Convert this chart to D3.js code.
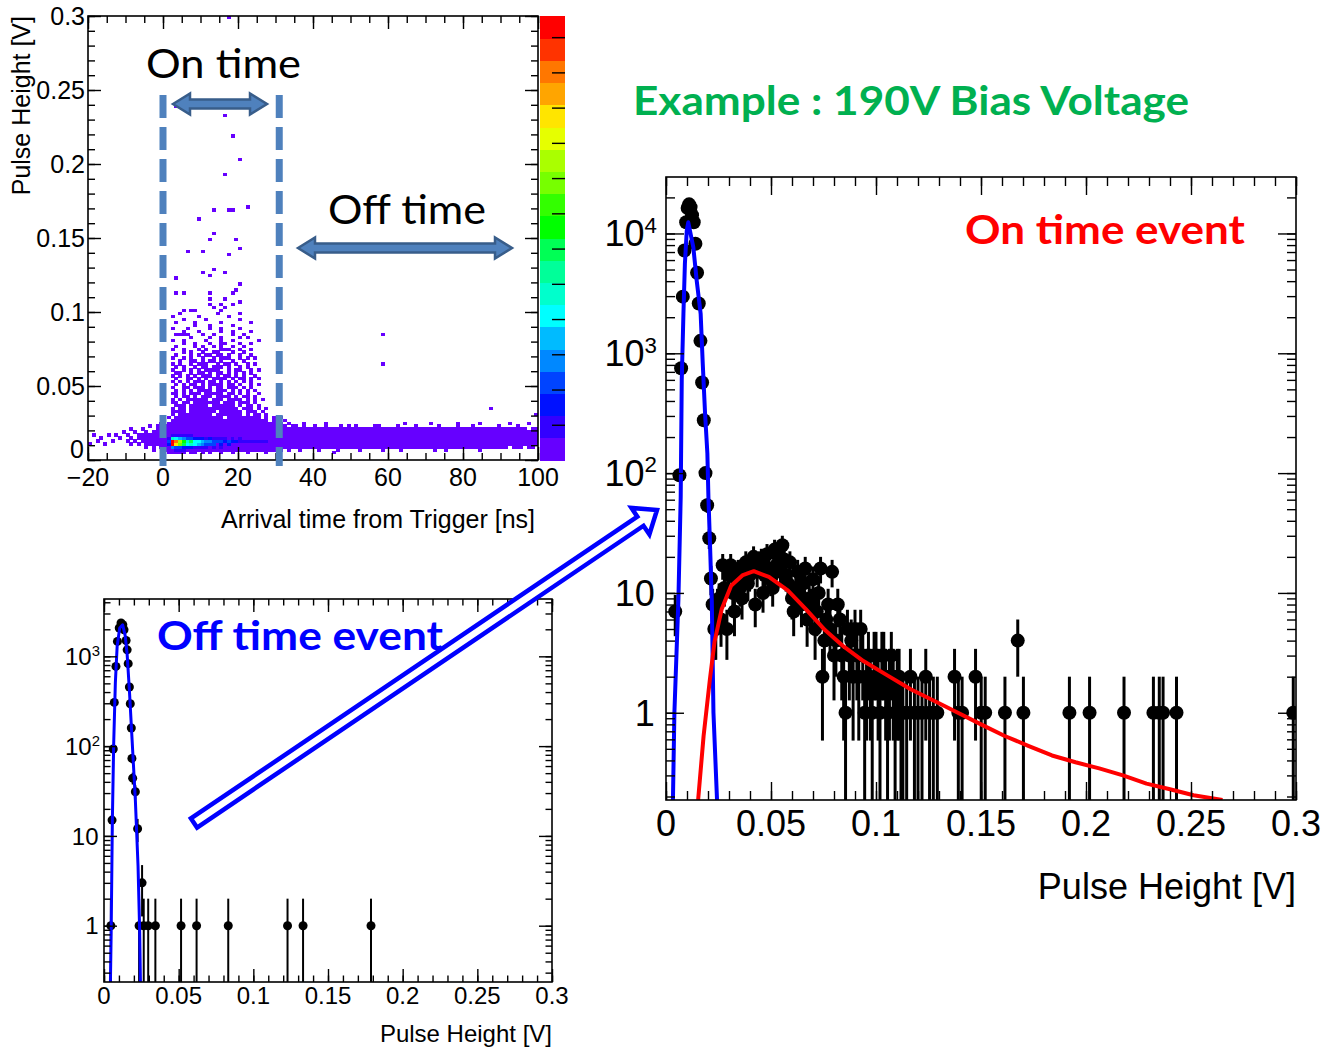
<!DOCTYPE html>
<html>
<head>
<meta charset="utf-8">
<script src="https://cdn.jsdelivr.net/npm/d3@7"></script>
<style>
body { margin: 0; background: #fff; }
svg text { font-family: "Liberation Sans", Arial, sans-serif; }
.ppt { font-family: Lato, "Open Sans", sans-serif; }
</style>
</head>
<body>
<div id="chart"></div>
<script>
////////////////////////////////////////////////////////////
//////////////////////// Data //////////////////////////////
////////////////////////////////////////////////////////////

// 2D histogram: arrival time (1 ns bins, -20..100) vs pulse height (0.002 V bins, 0..0.3)
var histXDomain = [-20, 100];
var histYDomain = [0, 0.3];
var yBin = 0.002;
var zMax = 126;
var zTickValues = [10, 20, 30, 40, 50, 60, 70, 80, 90, 100, 110, 120];
var zPalette = ["#6600ff", "#3300ff", "#0011ff", "#0044ff", "#0088ff", "#00bbff", "#00ffff",
                "#00ffcc", "#00ff99", "#00ff55", "#00ff00", "#33ff00", "#77ff00", "#aaff00",
                "#e6ff00", "#ffe500", "#ffa500", "#ff7700", "#ff3300", "#ff0000"];

// dense band, lowest / highest filled row per 1 ns column (column = ns + 20)
var bandLo = [
  1,1,1,1,1,1,1,1,1,1, 1,1,1,1, 6,5,5,4,5,4,
  3,2,2,2,2,2,3,2,2,3, 2,3,2,3,3,2,3,3,2,3, 3,3,2,3,3,3,3,2,3,3,
  3,3,4,3,4,4,3,4,4,4, 4,3,4,4,4,4,3,4,4,4, 4,4,3,4,4,4,4,4,3,4,
  4,4,4,3,4,4,4,4,4,4, 4,4,3,4,4,4,4,4,4,4, 4,4,4,4,3,4,4,4,4,4, 4,4,5,4,4,4,5,4,4,5];
var bandHi = [
  0,0,0,0,0,0,0,0,0,0, 0,0,0,0, 8,9,8,9,10,10,
  11,11,12,11,11,12,11,11,12,11, 11,12,11,11,11,12,11,11,11,12, 11,11,11,12,11,11,11,11,12,11,
  11,12,11,10,11,11,10,11,10,10, 11,10,10,11,10,10,10,11,10,10, 10,11,10,10,10,10,11,10,10,10,
  10,10,11,10,10,10,10,11,10,10, 10,10,10,11,10,10,10,10,11,10, 10,10,11,10,10,10,10,10,10,11, 10,10,10,10,11,10,10,9,10,10];

// sparse cells before the trigger [ns, row]
var leftCells = [[-20,5],[-19,8],[-18,6],[-17,7],[-16,5],[-15,8],[-14,6],[-13,8],[-12,7],[-11,9],
                 [-10,6],[-10,8],[-9,7],[-9,5],[-8,6],[-8,9],[-7,5],[-7,7],[-7,8],[-6,10],
                 [-5,4],[-4,11],[-3,3],[-2,11]];

// on-time scatter, one string per row from row 49 (0.098 V) down to row 12 (0.024 V), column = ns
var onTimeTopRow = 49;
var onTimeRows = [
  "....#.........#.....#.........",
  "..#......#.......#............",
  ".....#.....#........#.........",
  "...#....#......#.......#......",
  "........#...#.....#...........",
  "..#...#.....#..#....#.........",
  ".....#...#.....#..#....#......",
  "...####...#..#....#..#........",
  ".......#....#..#....#.#.......",
  "..#..#.....#...#..#......#....",
  ".....#..#...#..##...#..#......",
  "...#....#.#..#.#..#..#........",
  "..#..#...#.#...###..#..#......",
  ".....#.#..#..##...#..#........",
  "...#...#.#.##.##.#..#..#......",
  "..#..#.#..#..#.###..#.#.#.....",
  "....#..##.#.##.#..#..#........",
  "..#.#..#.###..#.##.#..#.#.....",
  "...#.#..#.##.###.#..#.#.......",
  "..#..#.#.#.####..#.##..#.#....",
  "...##..#.##.#.##.#.#.#.#......",
  "..#.#.#.#.###.#.##.#.#..#.....",
  "...#..##.#.#.####.#.##.#.#....",
  "..#.#.#.###.##.#.#.#.#.#......",
  "...#.#.##.#.####.##.#..#.#....",
  "..#..##.###.#.##.###.#.#......",
  "...#.#.#.####.###.#.#.#.#.....",
  "..##.#.###.#####.##.#.#..#....",
  "...#.##.#.###.####.#.##.#.....",
  "..#.#.######.###.####.#.#.#...",
  "..##.##.#######.###.###.#.....",
  "...###.#####.######.#.##.#....",
  "..#.##.#############.###.#.#..",
  "..####.#######.######.###.#...",
  "..#.#########.#######.#.##.#..",
  ".#.#############.#########.#.#",
  "..##########################.#",
  ".#############################"];

// isolated entries [ns, V]
var sparseCells = [[17,0.299],[3,0.238],[16,0.232],[18,0.219],[20,0.203],[16,0.193],[13,0.169],[17,0.169],
  [18,0.169],[22,0.171],[9,0.162],[13,0.152],[12,0.148],[19,0.148],[20,0.1435],[6,0.1416],[10,0.1407],
  [17,0.138],[13,0.1295],[10,0.126],[12,0.1244],[16,0.127],[3,0.123],[20,0.118],[19,0.115],[3,0.112],
  [5,0.112],[12,0.113],[18,0.113],[12,0.108],[16,0.108],[12,0.105],[15,0.104],[18,0.105],[20,0.106],
  [5,0.101],[8,0.101],[13,0.102],[16,0.102],[7,0.1],[15,0.1],
  [58,0.085],[58,0.064],[87,0.0357],[99,0.030],[33,0.0247],[37,0.0242],[43,0.0252],[49,0.0236],
  [57,0.0238],[64,0.025],[71,0.0245],[78,0.0242],[84,0.0246],[92,0.0242],[97,0.0244],[31,0.029],
  [32,0.027],[45,0.005],[75,0.007],[-1,0.025],[-4,0.022],[-9,0.021]];

// coloured core [ns, row, entries]
var coreCells = [
  [1,6,22],[1,5,18],[1,7,10],
  [2,6,126],[2,5,126],[3,6,112],[3,5,100],[4,6,88],[4,5,76],[5,6,66],[5,5,60],[6,6,50],[6,5,44],
  [7,6,58],[7,5,48],[8,6,44],[8,5,40],[9,6,38],[9,5,33],[10,6,32],[10,5,28],[11,6,28],[11,5,25],
  [12,6,27],[12,5,22],[13,6,24],[13,5,20],[14,6,22],[15,6,20],[15,5,18],[16,6,18],[17,6,20],[17,5,14],
  [18,6,15],[19,6,14],[20,6,12],[21,6,10],[22,6,12],[23,6,9],[24,6,10],[25,6,8],[26,6,9],[27,6,7],
  [2,7,45],[3,7,38],[4,7,32],[5,7,26],[6,7,22],[7,7,22],[8,7,18],[9,7,16],[10,7,14],[11,7,12],
  [12,7,13],[13,7,10],[14,7,9],[15,7,10],[16,7,8],[18,7,8],[20,7,7],
  [2,4,30],[3,4,25],[4,4,20],[5,4,18],[6,4,15],[7,4,16],[8,4,12],[9,4,10],[10,4,9],[11,4,8],
  [13,4,7],[15,4,7],[2,8,12],[3,8,10],[4,8,9],[5,8,8],[6,8,8],[7,8,7],[3,3,9],[4,3,8],[5,3,7]];

// on-time pulse height spectrum: bin centre [V] and entries
var onX = [0.0044,0.0064,0.0072,0.0080,0.0088,0.0096,0.0103,0.0110,0.0117,0.0124,0.0132,0.0140,0.0148,
  0.0156,0.0164,0.0172,0.0180,0.0188,0.0196,0.0206,0.0214,0.0222,0.0230,
  0.0237,0.0245,0.0253,0.0262,0.0270,0.0278,0.0290,0.0300,0.0308,0.0318,0.0326,0.0335,0.0344,0.0352,
  0.0362,0.0370,0.0380,0.0390,0.0398,0.0408,0.0417,0.0425,0.0434,0.0445,0.0454,0.0462,0.0471,0.0481,
  0.0490,0.0499,0.0508,0.0517,0.0526,0.0535,0.0545,0.0554,0.0563,0.0572,0.0581,0.0590,0.0600,0.0608,
  0.0618,0.0627,0.0636,0.0645,0.0654,0.0663,0.0672,0.0682,0.0691,0.0700,0.0710,0.0718,0.0727,0.0736,
  0.0745,0.0754,0.0763,0.0772,0.0781,0.0791,0.0800,0.0809,0.0818,0.0828,0.0837,0.0846,0.0855,0.0864,
  0.0873,0.0882,0.0891,0.0900,0.0909,0.0918,0.0927,0.0937,0.0946,0.0955,0.0964,0.0973,0.0982,0.0991,
  0.1000,0.1010,0.1019,0.1028,0.1037,0.1046,0.1055,0.1064,0.1073,0.1082,0.1091,0.1101,0.1110,0.1119,
  0.1128,0.1146,0.1164,0.1183,0.1200,0.1219,0.1237,0.1255,0.1273,0.1292,0.1374,0.1392,0.1410,0.1474,
  0.1501,0.1520,0.1614,0.1675,0.1702,0.1921,0.2017,0.2181,0.2321,0.2349,0.2367,0.2431,0.2987];
var onN = [7,96,750,2970,7200,12400,16300,17500,16600,14200,12400,8200,4700,
  2600,1270,570,276,100,54,28.6,13.2,8,5,
  5,8,9,6,17,11,5,14,17,10,7,13,15,11,
  9,16,18,12,14,16,20,8,15,18,19,10,14,21,
  16,13,11,23,17,20,15,25,19,14,12,18,9,7,
  11,15,10,8,12,16,6,9,8,13,5,7,10,16,
  2,4,6,8,5,15,3,4,8,6,3,2,1,5,
  3,4,2,5,3,2,5,3,1,2,3,2,1,3,
  3,2,1,3,3,2,1,2,3,2,1,2,2,1,
  1,1,2,1,1,1,2,1,1,1,2,1,1,2,
  1,1,1,4,1,1,1,1,1,1,1,1,1];
// fitted curves [V, value]
var onFitBlue = [[0.0033,0.187],[0.0040,1],[0.0059,8.7],[0.0070,63],[0.0075,600],[0.0083,2140],[0.0090,5600],
  [0.0099,10600],[0.0106,12400],[0.0130,7700],[0.0146,4070],[0.0165,2140],[0.0175,820],[0.0186,316],
  [0.0197,146],[0.0202,63],[0.0210,24],[0.0218,8.7],[0.0226,1],[0.0243,0.187]];
var onFitRed = [[0.0153,0.187],[0.0179,0.64],[0.0209,1.9],[0.0231,3.9],[0.0265,7.3],[0.0310,11.5],[0.0366,14.1],
  [0.0418,15.2],[0.0490,13.6],[0.0580,10.5],[0.0667,7.3],[0.0757,4.9],[0.0847,3.56],[0.0940,2.7],
  [0.1052,2.06],[0.1165,1.57],[0.1300,1.2],[0.1390,1.0],[0.1500,0.8],[0.1613,0.64],[0.1725,0.53],
  [0.1838,0.44],[0.1950,0.386],[0.2063,0.343],[0.2176,0.30],[0.2288,0.256],[0.2400,0.23],[0.2512,0.205],
  [0.2650,0.187]];

// off-time pulse height spectrum
var offX = [0.0046,0.0054,0.0062,0.0069,0.0080,0.0090,0.0102,0.0114,0.0126,0.0134,0.0148,0.0155,0.0162,
  0.0170,0.0176,0.0183,0.0187,0.0192,0.0210,0.0225,0.0235,0.0255,0.0266,0.0296,0.0344,0.0516,0.0620,
  0.0832,0.1229,0.1333,0.1788];
var offN = [1,15,93,307,772,1466,2065,2350,2250,1978,1500,1180,828,
  455,296,159,73,44,31,12,1,3,1,1,1,1,1,
  1,1,1,1];
var offFitBlue = [[0.0043,0.236],[0.0048,0.84],[0.0056,15],[0.0065,108],[0.0076,506],[0.0088,1290],[0.0105,2070],
  [0.0125,2240],[0.0142,1700],[0.0155,1050],[0.0170,420],[0.0188,118],[0.0210,25],[0.0228,4.6],
  [0.0239,0.84],[0.0244,0.236]];

// tick labels
var timeTicks = [-20, 0, 20, 40, 60, 80, 100];
var heightTicks = [0, 0.05, 0.1, 0.15, 0.2, 0.25, 0.3];
var onDecades = [1, 10, 100, 1000, 10000];
var offDecades = [1, 10, 100, 1000];

////////////////////////////////////////////////////////////
//////////////////////// Set-Up ////////////////////////////
////////////////////////////////////////////////////////////
var width = 1324, height = 1050;
var svg = d3.select("#chart").append("svg")
  .attr("width", width).attr("height", height).style("display", "block");
svg.append("rect").attr("width", width).attr("height", height).attr("fill", "#fff");

function fmt(v) { return v < 0 ? "\u2212" + Math.abs(v) : String(+v.toFixed(2)); }

// one set of inward ticks on one side
function tickSet(g, axisFn, scale, vals, len, tr) {
  var a = g.append("g").attr("transform", tr)
    .call(axisFn(scale).tickValues(vals).tickSize(-len).tickFormat(""));
  a.select(".domain").remove();
  a.selectAll(".tick line").attr("stroke", "#000").attr("stroke-width", 1.4);
}

// ROOT style frame: ticks on all four sides
function frame(g, x, y, xMaj, xMin, yMaj, yMin, tMaj, tMin) {
  var X0 = x.range()[0], X1 = x.range()[1], Yb = y.range()[0], Yt = y.range()[1];
  tickSet(g, d3.axisBottom, x, xMin, tMin, "translate(0," + Yb + ")");
  tickSet(g, d3.axisBottom, x, xMaj, tMaj, "translate(0," + Yb + ")");
  tickSet(g, d3.axisTop, x, xMin, tMin, "translate(0," + Yt + ")");
  tickSet(g, d3.axisTop, x, xMaj, tMaj, "translate(0," + Yt + ")");
  tickSet(g, d3.axisLeft, y, yMin, tMin, "translate(" + X0 + ",0)");
  tickSet(g, d3.axisLeft, y, yMaj, tMaj, "translate(" + X0 + ",0)");
  tickSet(g, d3.axisRight, y, yMin, tMin, "translate(" + X1 + ",0)");
  tickSet(g, d3.axisRight, y, yMaj, tMaj, "translate(" + X1 + ",0)");
  g.append("rect").attr("x", X0).attr("y", Yt).attr("width", X1 - X0).attr("height", Yb - Yt)
    .attr("fill", "none").attr("stroke", "#000").attr("stroke-width", 1.6);
}

function logMinor(y) {
  var d = y.domain();
  return y.ticks().filter(function(v) { return v >= d[0] && v <= d[1]; });
}

function logLabels(g, y, vals, xr, fs) {
  vals.forEach(function(v) {
    var e = Math.round(Math.log10(v));
    var t = g.append("text").attr("x", xr).attr("y", y(v)).attr("dy", "0.36em")
      .attr("text-anchor", "end").attr("font-size", fs);
    if (e <= 1) t.attr("dx", -fs * 0.06).text(e === 0 ? "1" : "10");
    else {
      t.append("tspan").text("10");
      t.append("tspan").attr("font-size", fs * 0.62).attr("dy", -fs * 0.38).text(e);
    }
  });
}

////////////////////////////////////////////////////////////
////////////////// Top-left 2D histogram ///////////////////
////////////////////////////////////////////////////////////
var hx = d3.scaleLinear().domain(histXDomain).range([88, 538]);
var hy = d3.scaleLinear().domain(histYDomain).range([460, 16]);
var hz = d3.scaleLinear().domain([0, zMax]).range([460, 16]);
var zColor = d3.scaleQuantize().domain([0, zMax]).range(zPalette);

var cells = new Map();
function put(ns, row, n) { cells.set(ns + "," + row, {ns: ns, row: row, n: n}); }
bandLo.forEach(function(lo, i) { for (var r = lo; r <= bandHi[i]; r++) put(i - 20, r, 1); });
leftCells.forEach(function(d) { put(d[0], d[1], 1); });
onTimeRows.forEach(function(s, i) {
  for (var j = 0; j < s.length; j++) if (s[j] === "#") put(j, onTimeTopRow - i, 1);
});
sparseCells.forEach(function(d) { put(Math.floor(d[0]), Math.floor(d[1] / yBin + 1e-9), 1); });
coreCells.forEach(function(d) { put(d[0], d[1], d[2]); });

var hist = svg.append("g").attr("shape-rendering", "crispEdges");
hist.selectAll("rect").data(Array.from(cells.values())).join("rect")
  .attr("x", function(d) { return hx(d.ns); })
  .attr("y", function(d) { return hy((d.row + 1) * yBin); })
  .attr("width", function(d) { return hx(d.ns + 1) - hx(d.ns) + 0.4; })
  .attr("height", function(d) { return hy(d.row * yBin) - hy((d.row + 1) * yBin) + 0.4; })
  .attr("fill", function(d) { return zColor(d.n); });

// colour bar
var zStep = zMax / zPalette.length;
svg.append("g").attr("shape-rendering", "crispEdges").selectAll("rect").data(zPalette).join("rect")
  .attr("x", 540).attr("width", 25)
  .attr("y", function(c, i) { return hz((i + 1) * zStep); })
  .attr("height", function(c, i) { return hz(i * zStep) - hz((i + 1) * zStep) + 0.5; })
  .attr("fill", function(c) { return c; });
tickSet(svg, d3.axisRight, hz, zTickValues, 13, "translate(565,0)");

var tl = svg.append("g");
frame(tl, hx, hy, timeTicks, d3.range(-20, 100.1, 5), heightTicks, d3.range(0, 0.3001, 0.01), 13, 7);
tl.selectAll(".xl").data(timeTicks).join("text")
  .attr("x", function(d) { return hx(d); }).attr("y", 486)
  .attr("text-anchor", "middle").attr("font-size", 25).text(fmt);
tl.selectAll(".yl").data(heightTicks).join("text")
  .attr("x", function(d) { return d === 0 ? 84 : 85; })
  .attr("y", function(d) { return d === 0 ? hy(d) - 11 : hy(d); }).attr("dy", "0.36em")
  .attr("text-anchor", "end").attr("font-size", 25).text(fmt);
tl.append("text").attr("x", 535).attr("y", 528).attr("text-anchor", "end")
  .attr("font-size", 25).text("Arrival time from Trigger [ns]");
tl.append("text").attr("transform", "translate(30,16) rotate(-90)").attr("text-anchor", "end")
  .attr("font-size", 25).text("Pulse Height [V]");

// slide annotations on the 2D histogram
var slideBlue = "#4f81bd", slideDark = "#385d8a";
[hx(0), hx(31)].forEach(function(x) {
  svg.append("line").attr("x1", x).attr("x2", x).attr("y1", 95).attr("y2", 466)
    .attr("stroke", slideBlue).attr("stroke-width", 7).attr("stroke-dasharray", "23,9");
});
function doubleArrow(x1, x2, yc) {
  var sh = 4.5, hh = 10.5, hl = 17;
  var p = [[x1, yc], [x1 + hl, yc - hh], [x1 + hl, yc - sh], [x2 - hl, yc - sh], [x2 - hl, yc - hh],
           [x2, yc], [x2 - hl, yc + hh], [x2 - hl, yc + sh], [x1 + hl, yc + sh], [x1 + hl, yc + hh]];
  svg.append("path").attr("d", "M" + p.join("L") + "Z")
    .attr("fill", slideBlue).attr("stroke", slideDark).attr("stroke-width", 2.5);
}
doubleArrow(173, 267, 104);
doubleArrow(298, 512, 248);
svg.append("text").attr("class", "ppt").attr("x", 146).attr("y", 78).attr("font-size", 40)
  .attr("textLength", 155).attr("lengthAdjust", "spacingAndGlyphs").text("On time");
svg.append("text").attr("class", "ppt").attr("x", 328).attr("y", 224).attr("font-size", 40)
  .attr("textLength", 158).attr("lengthAdjust", "spacingAndGlyphs").text("Off time");

////////////////////////////////////////////////////////////
///////////////// Pulse height spectra ////////////////////
////////////////////////////////////////////////////////////
function spectrum(o) {
  var g = svg.append("g");
  var id = "clip" + o.name;
  var X0 = o.x.range()[0], X1 = o.x.range()[1], Yb = o.y.range()[0], Yt = o.y.range()[1];
  svg.append("clipPath").attr("id", id).append("rect")
    .attr("x", X0).attr("y", Yt).attr("width", X1 - X0).attr("height", Yb - Yt);
  var pl = g.append("g").attr("clip-path", "url(#" + id + ")");
  var ymin = o.y.domain()[0];
  var pts = o.xs.map(function(v, i) { return {x: v, n: o.ns[i]}; });
  pl.selectAll(".err").data(pts).join("line")
    .attr("x1", function(d) { return o.x(d.x); }).attr("x2", function(d) { return o.x(d.x); })
    .attr("y1", function(d) { return o.y(d.n + Math.sqrt(d.n)); })
    .attr("y2", function(d) { return o.y(Math.max(ymin, d.n - Math.sqrt(d.n))); })
    .attr("stroke", "#000").attr("stroke-width", o.ew);
  pl.selectAll(".mk").data(pts).join("circle")
    .attr("cx", function(d) { return o.x(d.x); }).attr("cy", function(d) { return o.y(d.n); })
    .attr("r", o.r).attr("fill", "#000");
  var line = d3.line().x(function(d) { return o.x(d[0]); }).y(function(d) { return o.y(d[1]); });
  o.fits.forEach(function(f) {
    pl.append("path").attr("d", line(f.pts)).attr("fill", "none")
      .attr("stroke", f.color).attr("stroke-width", o.lw).attr("stroke-linejoin", "round");
  });
  var majors = o.decades.filter(function(v) { return v >= ymin; });
  frame(g, o.x, o.y, heightTicks, d3.range(0, 0.3001, 0.01), majors, logMinor(o.y), o.tMaj, o.tMin);
  g.selectAll(".xl").data(heightTicks).join("text")
    .attr("x", function(d) { return o.x(d); }).attr("y", o.labelY)
    .attr("text-anchor", "middle").attr("font-size", o.fs).text(fmt);
  logLabels(g, o.y, majors, X0 - o.labelGap, o.fs);
  g.append("text").attr("x", X1).attr("y", o.titleY).attr("text-anchor", "end")
    .attr("font-size", o.fs).text("Pulse Height [V]");
}

spectrum({
  name: "on", xs: onX, ns: onN,
  x: d3.scaleLinear().domain([0, 0.3]).range([666, 1296]),
  y: d3.scaleLog().domain([0.187, 29600]).range([800, 177]),
  fits: [{pts: onFitBlue, color: "#0000ff"}, {pts: onFitRed, color: "#ff0000"}],
  r: 7, ew: 3, lw: 4, tMaj: 18, tMin: 9, fs: 36, labelY: 836, labelGap: 9, titleY: 899,
  decades: onDecades
});

spectrum({
  name: "off", xs: offX, ns: offN,
  x: d3.scaleLinear().domain([0, 0.3]).range([104, 552]),
  y: d3.scaleLog().domain([0.236, 4350]).range([982, 599]),
  fits: [{pts: offFitBlue, color: "#0000ff"}],
  r: 4.5, ew: 2, lw: 3, tMaj: 13, tMin: 6.5, fs: 24, labelY: 1004, labelGap: 4, titleY: 1042,
  decades: offDecades
});

////////////////////////////////////////////////////////////
//////////////////// Slide captions ////////////////////////
////////////////////////////////////////////////////////////
// outlined block arrow from the off-time panel to the on-time panel
(function() {
  var tail = [194, 823], tip = [657, 510], bw = 5.5, hw = 16, hl = 20;
  var dx = tip[0] - tail[0], dy = tip[1] - tail[1], L = Math.sqrt(dx * dx + dy * dy);
  var d = [dx / L, dy / L], n = [-d[1], d[0]];
  var base = [tip[0] - d[0] * hl, tip[1] - d[1] * hl];
  function pt(p, k) { return [p[0] + n[0] * k, p[1] + n[1] * k]; }
  var p = [pt(tail, bw), pt(base, bw), pt(base, hw), tip, pt(base, -hw), pt(base, -bw), pt(tail, -bw)];
  svg.append("path").attr("d", "M" + p.join("L") + "Z")
    .attr("fill", "#fff").attr("stroke", "#0000ff").attr("stroke-width", 4.5)
    .attr("stroke-linejoin", "miter");
})();

svg.append("text").attr("class", "ppt").attr("x", 633).attr("y", 115).attr("font-size", 40)
  .attr("font-weight", "bold").attr("fill", "#00b050")
  .attr("textLength", 556).attr("lengthAdjust", "spacingAndGlyphs").text("Example : 190V Bias Voltage");
svg.append("text").attr("class", "ppt").attr("x", 965).attr("y", 244).attr("font-size", 40)
  .attr("font-weight", "bold").attr("fill", "#ff0000")
  .attr("textLength", 280).attr("lengthAdjust", "spacingAndGlyphs").text("On time event");
svg.append("text").attr("class", "ppt").attr("x", 157).attr("y", 650).attr("font-size", 40)
  .attr("font-weight", "bold").attr("fill", "#0000ff")
  .attr("textLength", 286).attr("lengthAdjust", "spacingAndGlyphs").text("Off time event");
</script>
</body>
</html>
